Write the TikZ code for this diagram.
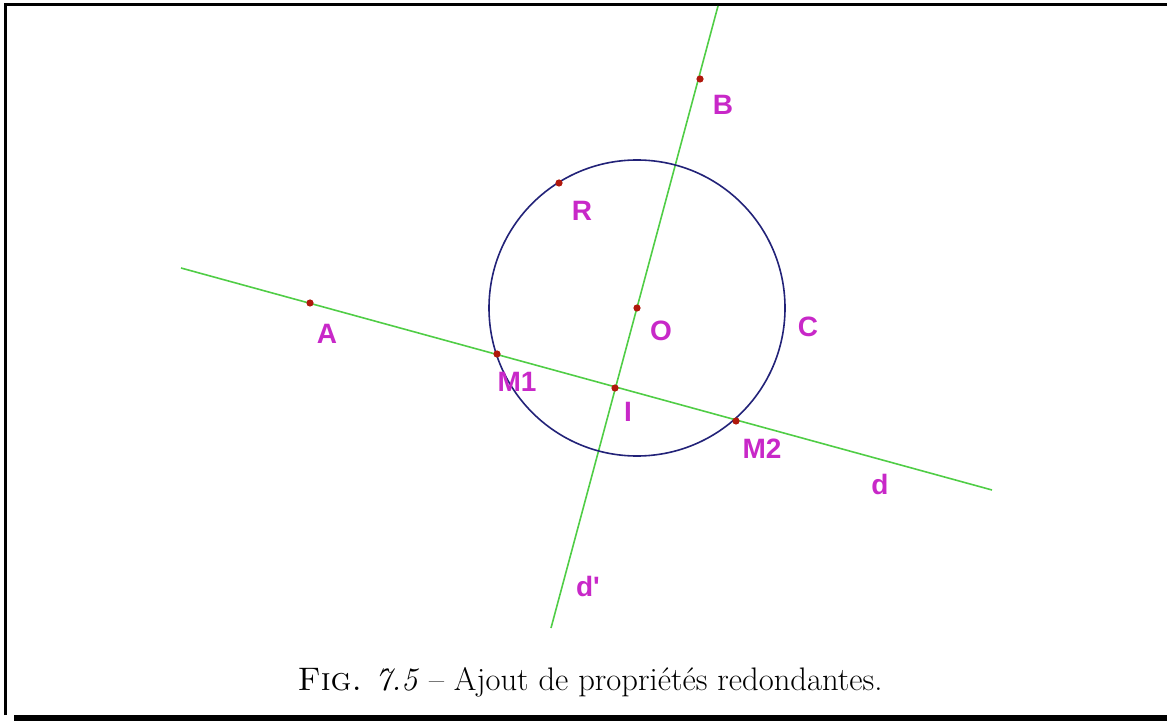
\documentclass[tikz,border=0pt]{standalone}
\usepackage{fontspec}
\newfontfamily\geofont{Liberation Sans}
\usetikzlibrary{calc}

\definecolor{ligneverte}{RGB}{80,205,70}
\definecolor{cercbleu}{RGB}{34,34,120}
\definecolor{ptrouge}{RGB}{176,24,12}
\definecolor{lblrose}{RGB}{200,40,200}

\begin{document}
\begin{tikzpicture}[
  x=0.5pt,y=-0.5pt,
  ligne/.style={draw=ligneverte,line width=0.8pt},
  cerc/.style={draw=cercbleu,line width=0.8pt},
  pt/.style={circle,fill=ptrouge,inner sep=0pt,minimum size=3.6pt},
  lbl/.style={text=lblrose,font=\geofont\bfseries\fontsize{14}{14}\selectfont,inner sep=0pt},
  cadre/.style={line width=1.5pt}
]
\useasboundingbox (0,0) rectangle (1167,721);

% cadre
\draw[cadre] (5.5,715) -- (5.5,4.5) -- (1167,4.5);
\fill (14,715) rectangle (1167,721);

% droites et cercle
\coordinate (dG) at (181,268);
\coordinate (dD) at (992,490);
\coordinate (pH) at (718,6);
\coordinate (pB) at (551,628);
\draw[ligne] (dG) -- (dD);
\draw[ligne] (pH) -- (pB);
\draw[cerc] (637,308) circle[radius=74pt];

% points
\node[pt] (O)  at (637,308) {};
\node[pt] (B)  at (700,79)  {};
\node[pt] (R)  at (559,183) {};
\node[pt] (A)  at (310,303) {};
\node[pt] (M1) at (497,354) {};
\node[pt] (I)  at (615,388) {};
\node[pt] (M2) at (736,421) {};

% etiquettes
\foreach \n/\t/\p in {lB/B/{(723,105)},lR/R/{(582,211)},lO/O/{(661,331)},
  lC/C/{(808,327)},lA/A/{(327,334)},lM1/M1/{(517,382)},lI/I/{(628,412)},
  lM2/M2/{(762,449)},ld/d/{(880,484)},ldp/d'/{(588,586)}}
  \node[lbl] (\n) at \p {\t};

% legende
\node[anchor=base,font=\fontsize{16.3}{19}\selectfont] (cap) at (590,690)
  {\textsc{Fig.} \textit{7.5} -- Ajout de propriétés redondantes.};
\end{tikzpicture}
\end{document}
